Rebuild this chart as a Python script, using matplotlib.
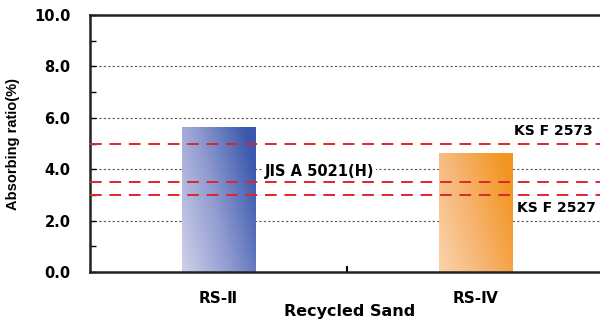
import numpy as np
import matplotlib
matplotlib.use("Agg")
import matplotlib.pyplot as plt
from matplotlib.colors import LinearSegmentedColormap

plt.rcParams["font.family"] = ["DejaVu Sans"]

# absorbing ratio per recycled sand type
categories = ["RS-Ⅱ", "RS-Ⅳ"]
absorbing = [5.65, 4.65]

# standard limits (dashed red lines)
std_names = ["KS F 2573", "JIS A 5021(H)", "KS F 2527"]
std_values = [5.0, 3.5, 3.0]

yticks = [0.0, 2.0, 4.0, 6.0, 8.0, 10.0]

bar_maps = [
    LinearSegmentedColormap.from_list("blue", ["#d0d0ea", "#8f9bd0", "#3a58ad"]),
    LinearSegmentedColormap.from_list("orange", ["#fad3ad", "#f6b36e", "#f2951f"]),
]

fig = plt.figure(figsize=(6, 3.2), dpi=100)
ax = fig.add_axes([0.15, 0.15, 0.85, 0.803])

x = np.arange(len(categories))
bar_w = 0.285
xmax = -0.5 + 510 / 257
ax.set_xlim(-0.5, xmax)
ax.set_ylim(0, 10)

# gradient fill for each bar (light at bottom-left, saturated at top-right)
gx, gy = np.meshgrid(np.linspace(0, 1, 100), np.linspace(0, 1, 100))
grad = np.clip(0.75 * gx + 0.35 * gy, 0, 1)
for xi, v, cmap in zip(x, absorbing, bar_maps):
    bars = ax.bar(xi, v, width=bar_w, color="none", edgecolor="none", zorder=2)
    im = ax.imshow(grad, cmap=cmap, origin="lower", aspect="auto",
                   extent=[xi - bar_w / 2, xi + bar_w / 2, 0, v], zorder=2)
    im.set_clip_path(bars[0])

for yv in [2, 4, 6, 8]:
    ax.axhline(yv, color="#555555", ls=(0, (2, 2)), lw=0.8, zorder=1)

for yv in std_values:
    ax.axhline(yv, color="#e0242c", ls=(0, (6, 4)), lw=1.4, zorder=3)

label_kw = dict(fontsize=10, fontweight="bold", ha="left")
ax.text(1.15, 5.2, std_names[0], va="bottom", **label_kw)
ax.text(0.18, 3.62, std_names[1], va="bottom", zorder=4, fontsize=10.5,
        fontweight="bold", ha="left",
        bbox=dict(facecolor="white", edgecolor="none", pad=1))
ax.text(1.16, 2.75, std_names[2], va="top", **label_kw)

ax.set_yticks(yticks)
ax.set_yticklabels([f"{t:.1f}" for t in yticks], fontsize=10.5, fontweight="bold")
ax.set_yticks([1, 3, 5, 7, 9], minor=True)
ax.tick_params(axis="y", which="both", direction="in", length=4, width=1, pad=14)
ax.set_xticks([0.5], minor=True)
ax.set_xticks(x)
ax.set_xticklabels(categories, fontsize=11, fontweight="bold")
ax.tick_params(axis="x", which="major", length=0, pad=14)
ax.tick_params(axis="x", which="minor", direction="in", length=4, width=1.5)

ax.set_ylabel("Absorbing ratio(%)", fontsize=10.5, fontweight="bold",
              family="Liberation Sans", labelpad=10)
fig.text(350 / 600, 0.004, "Recycled Sand", fontsize=11.5, fontweight="bold",
         ha="center", va="bottom")

for side in ["left", "bottom", "top"]:
    ax.spines[side].set_linewidth(1.8)
    ax.spines[side].set_color("#222222")
ax.spines["right"].set_visible(False)

fig.savefig("out.png", dpi=100)
